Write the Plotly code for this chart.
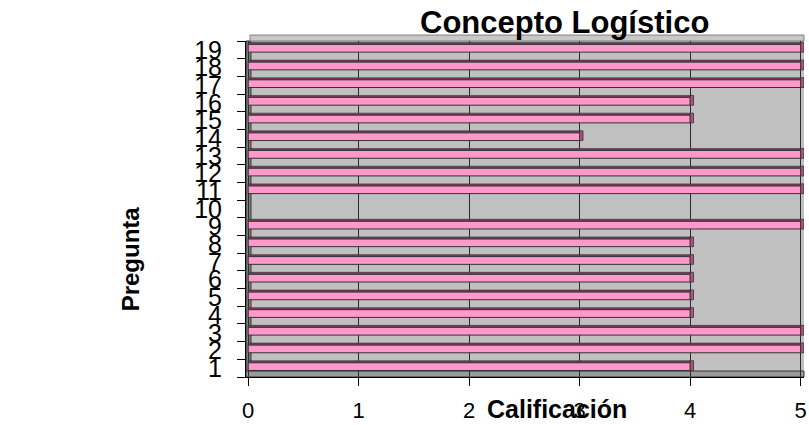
import plotly.graph_objects as go

# Question numbers and their scores (question 10 has no score)
preguntas = [str(i) for i in range(1, 20)]
calificacion = [4, 5, 5, 4, 4, 4, 4, 4, 5, None, 5, 5, 5, 3, 4, 4, 5, 5, 5]
x_ticks = [0, 1, 2, 3, 4, 5]

PINK = "#FF99CC"
TOP = "#7A3A57"
CAP = "#B0527E"
EDGE = "#333333"
WALL = "#C0C0C0"

W, H = 809, 425
ML, MR, MT, MB = 246, 2, 41, 46
PW, PH = W - ML - MR, H - MT - MB


def px_x(p):
    return (p - ML) / PW


def px_y(p):
    return (H - MB - p) / PH


fig = go.Figure()

# front face of each bar
fig.add_trace(go.Bar(
    y=preguntas, x=calificacion, orientation="h",
    width=0.44, offset=-0.13,
    marker=dict(color=PINK, line=dict(color=EDGE, width=1)),
    hoverinfo="skip",
))
# darker top face giving the bars depth
fig.add_trace(go.Bar(
    y=preguntas, x=calificacion, orientation="h",
    width=0.11, offset=0.31,
    marker=dict(color=TOP, line=dict(color=EDGE, width=0.6)),
    hoverinfo="skip",
))
# end cap at the tip of each bar
fig.add_trace(go.Bar(
    y=preguntas, x=[0.03 if v is not None else None for v in calificacion],
    base=calificacion, orientation="h",
    width=0.55, offset=-0.13,
    marker=dict(color=CAP, line=dict(color=EDGE, width=0.8)),
    hoverinfo="skip",
))

shapes = [
    # left side wall
    dict(type="rect", xref="paper", yref="paper", x0=0, x1=px_x(251), y0=0, y1=1,
         fillcolor="#808080", line=dict(color=EDGE, width=1), layer="below"),
    # floor
    dict(type="rect", xref="paper", yref="paper", x0=0, x1=1, y0=0, y1=px_y(373),
         fillcolor="#9A9A9A", line=dict(color=EDGE, width=1), layer="below"),
    # top edge of the back wall
    dict(type="rect", xref="paper", yref="paper", x0=px_x(250), x1=1, y0=1, y1=px_y(35),
         fillcolor="#C8C8C8", line=dict(color="#808080", width=1), layer="below"),
]

annotations = [
    dict(text="<b>Concepto Logístico</b>", xref="paper", yref="paper",
         x=px_x(566), y=px_y(22), xanchor="center", yanchor="middle",
         showarrow=False, font=dict(size=31, color="black", family="Liberation Sans, Arial")),
    dict(text="<b>Calificación</b>", xref="paper", yref="paper",
         x=px_x(559), y=px_y(411), xanchor="center", yanchor="middle",
         showarrow=False, font=dict(size=25, color="black", family="Liberation Sans, Arial")),
    dict(text="<b>Pregunta</b>", xref="paper", yref="paper",
         x=px_x(130), y=px_y(260), xanchor="center", yanchor="middle", textangle=-90,
         showarrow=False, font=dict(size=24, color="black", family="Liberation Sans, Arial")),
]

fig.update_layout(
    width=W, height=H,
    margin=dict(l=ML, r=MR, t=MT, b=MB, pad=0),
    paper_bgcolor="white", plot_bgcolor=WALL,
    barmode="overlay", showlegend=False,
    font=dict(family="Liberation Sans, Arial", color="black"),
    shapes=shapes, annotations=annotations,
)
fig.update_xaxes(
    range=[-0.02, 5.03], tickmode="array", tickvals=x_ticks,
    ticktext=[str(t) for t in x_ticks],
    showgrid=True, gridcolor="#2A2A2A", gridwidth=1.3, zeroline=False,
    showline=True, linecolor="black", linewidth=1,
    ticks="outside", ticklen=8, tickcolor="black",
    tickfont=dict(size=22), ticklabelstandoff=6, ticklabeloverflow="allow",
)
fig.update_yaxes(
    type="category", categoryorder="array", categoryarray=preguntas,
    tickmode="array", tickvals=preguntas, ticktext=preguntas,
    range=[-0.5, 18.5], tickson="boundaries",
    showgrid=False, zeroline=False,
    showline=True, linecolor="black", linewidth=1,
    ticks="outside", ticklen=8, tickcolor="black",
    tickfont=dict(size=25), ticklabelstandoff=18, ticklabeloverflow="allow",
)

fig.write_html("out.html")
